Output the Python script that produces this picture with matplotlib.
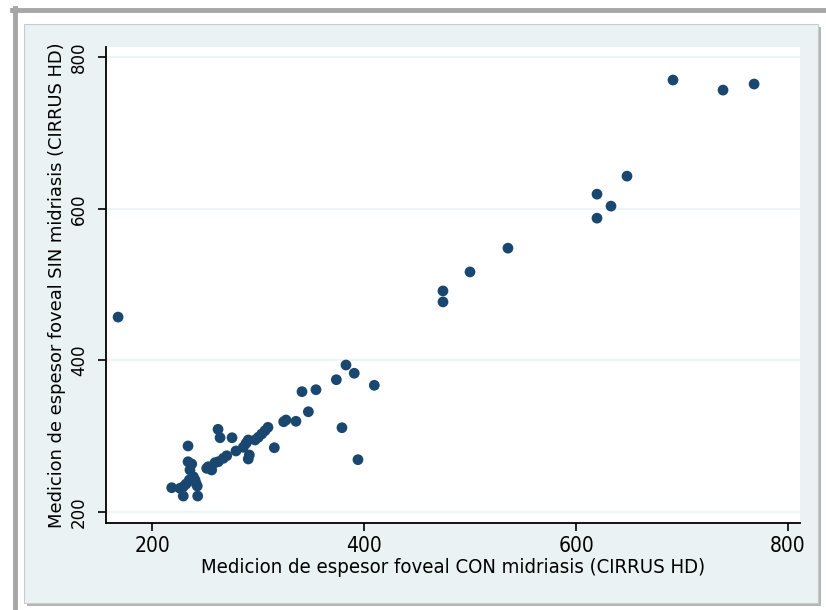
import numpy as np
import matplotlib.pyplot as plt
from matplotlib.patches import Rectangle
from matplotlib.lines import Line2D

# foveal thickness, with vs. without mydriasis (CIRRUS HD)
con_midriasis = [
    168.0, 691.5, 738.7, 768.0, 648.1, 619.8, 633.0, 619.8, 535.8, 500.0,
    474.5, 474.5, 383.0, 390.8, 373.9, 409.7, 341.5, 354.7, 347.5, 379.2,
    335.8, 326.4, 324.2, 394.3, 315.4, 309.4, 306.6, 303.5, 300.3, 297.2,
    290.8, 288.7, 286.1, 290.8, 291.8, 279.2, 270.5, 267.3, 262.5, 259.4,
    253.1, 251.6, 256.3, 262.3, 264.2, 275.5, 234.0, 234.0, 237.5, 235.8,
    239.0, 240.6, 241.5, 242.7, 232.1, 229.5, 226.4, 218.6, 229.5, 243.1,
    235.2,
]
sin_midriasis = [
    457.0, 770.0, 756.7, 764.7, 643.1, 619.3, 603.5, 587.6, 548.0, 516.6,
    491.5, 477.0, 393.7, 382.8, 374.3, 366.9, 358.5, 361.1, 332.0, 310.9,
    319.4, 321.1, 318.8, 268.7, 284.5, 311.4, 307.0, 302.6, 298.3, 294.7,
    294.7, 290.3, 285.0, 269.6, 274.9, 280.2, 273.9, 270.5, 266.0, 264.7,
    259.4, 257.3, 255.1, 308.8, 297.7, 297.7, 286.8, 266.0, 263.0, 255.1,
    246.2, 241.9, 237.5, 233.9, 236.6, 233.0, 230.9, 231.7, 220.7, 220.7,
    241.9,
]
ticks = [200, 400, 600, 800]

W, H = 826, 610
fig = plt.figure(figsize=(W / 100, H / 100), dpi=100, facecolor='white')


def box(x0, y0, x1, y1, **kw):
    # rectangle in pixel coords measured from the top-left corner
    fig.add_artist(Rectangle((x0 / W, 1 - y1 / H), (x1 - x0) / W, (y1 - y0) / H,
                             transform=fig.transFigure, zorder=-2, **kw))


# window frame and graph region
fig.add_artist(Line2D([12 / W, 1], [1 - 9.5 / H] * 2, transform=fig.transFigure,
                      color='#a6a6a6', lw=3.5, zorder=-2))
fig.add_artist(Line2D([14.5 / W] * 2, [0, 1 - 8 / H], transform=fig.transFigure,
                      color='#a6a6a6', lw=3.5, zorder=-2))
box(27, 27, 821, 606, facecolor='#b5b5b5', edgecolor='none')
box(24, 24, 818, 603, facecolor='#eaf2f3', edgecolor='#c8cccc', lw=0.8)

ax = fig.add_axes([106 / W, (H - 523.3) / H, (800 - 106) / W, (523.3 - 46.7) / H])
ax.set_zorder(5)
ax.set_facecolor('white')
ax.scatter(con_midriasis, sin_midriasis, s=60, color='#1a476f', edgecolors='none',
           zorder=3)

ax.set_xlim(156.6, 811.3)
ax.set_ylim(184.7, 814)
ax.set_xticks(ticks)
ax.set_yticks(ticks)
ax.grid(axis='y', color='#eaf2f3', lw=1.2)
ax.grid(axis='x', visible=False)
for s in ['top', 'right']:
    ax.spines[s].set_visible(False)
for s in ['left', 'bottom']:
    ax.spines[s].set_linewidth(1.3)
ax.tick_params(length=6, width=1.2, color='black')
ax.tick_params(axis='y', pad=7)

narrow = ['DejaVu Sans Condensed', 'Liberation Sans Narrow', 'DejaVu Sans']
ax.set_xticklabels([str(t) for t in ticks], fontsize=15, family=narrow,
                   fontstretch='condensed')
ax.set_yticklabels([str(t) for t in ticks], fontsize=12, rotation=90, va='center')
ax.set_xlabel('Medicion de espesor foveal CON midriasis (CIRRUS HD)', fontsize=14.6,
              family=narrow, fontstretch='condensed', labelpad=1)
ax.set_ylabel('Medicion de espesor foveal SIN midriasis (CIRRUS HD)', fontsize=12.9,
              labelpad=3)

fig.savefig('out.png', dpi=100, facecolor='white')
